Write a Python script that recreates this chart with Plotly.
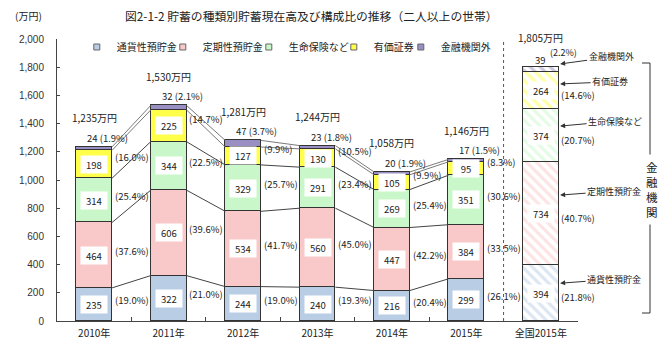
import plotly.graph_objects as go

# ---------------- data ----------------
categories = ["2010年", "2011年", "2012年", "2013年", "2014年", "2015年", "全国2015年"]
series_names = ["通貨性預貯金", "定期性預貯金", "生命保険など", "有価証券", "金融機関外"]

tsuka = [235, 322, 244, 240, 216, 299, 394]     # 通貨性預貯金
teiki = [464, 606, 534, 560, 447, 384, 734]     # 定期性預貯金
seimei = [314, 344, 329, 291, 269, 351, 374]    # 生命保険など
yuka = [198, 225, 127, 130, 105, 95, 264]       # 有価証券
gai = [24, 32, 47, 23, 20, 17, 39]              # 金融機関外
totals = [1235, 1530, 1281, 1244, 1058, 1146, 1805]

pct_tsuka = [19.0, 21.0, 19.0, 19.3, 20.4, 26.1, 21.8]
pct_teiki = [37.6, 39.6, 41.7, 45.0, 42.2, 33.5, 40.7]
pct_seimei = [25.4, 22.5, 25.7, 23.4, 25.4, 30.6, 20.7]
pct_yuka = [16.0, 14.7, 9.9, 10.5, 9.9, 8.3, 14.6]
pct_gai = [1.9, 2.1, 3.7, 1.8, 1.9, 1.5, 2.2]

y_ticks = list(range(0, 2001, 200))

# ---------------- styles ----------------
colors = ["#b9cde5", "#f9c9c9", "#c9f7c9", "#ffff4a", "#9a8fc2"]
FONT = "Noto Sans CJK JP"
TXT = "#222222"
BAR_W = 0.48

values = [tsuka, teiki, seimei, yuka, gai]
pcts = [pct_tsuka, pct_teiki, pct_seimei, pct_yuka, pct_gai]
n = len(categories)
xs = list(range(n))
ny = n - 1  # yearly bars; last one is the national bar

# cumulative tops
cum = []
run = [0] * n
for v in values:
    run = [a + b for a, b in zip(run, v)]
    cum.append(run[:])
bases = [[0] * n] + cum[:-1]

fig = go.Figure()

# yearly bars
for k, name in enumerate(series_names):
    fig.add_trace(go.Bar(
        x=xs[:ny], y=values[k][:ny], width=BAR_W, name=name,
        marker=dict(color=colors[k], line=dict(color="#333333", width=1)),
        showlegend=False, legendgroup=name,
    ))
# national bar (hatched)
for k, name in enumerate(series_names):
    fig.add_trace(go.Bar(
        x=[xs[-1]], y=[values[k][-1]], width=BAR_W, name=name,
        marker=dict(color="white", line=dict(color="#333333", width=1),
                    pattern=dict(shape="\\", fgcolor=colors[k], bgcolor="white",
                                 size=7, solidity=0.45)),
        showlegend=False, legendgroup=name,
    ))

# series lines between yearly bars
half = BAR_W / 2
for k in range(len(series_names)):
    lx, ly = [], []
    for i in range(ny - 1):
        lx += [xs[i] + half, xs[i + 1] - half, None]
        ly += [cum[k][i], cum[k][i + 1], None]
    fig.add_trace(go.Scatter(
        x=lx, y=ly, mode="lines", showlegend=False, hoverinfo="skip",
        line=dict(color="#444444" if k < 3 else "#7a7a7a", width=1),
    ))

# legend entries (small square markers)
legend_w = [41, 41, 40, 22, 50]
for k, name in enumerate(series_names):
    fig.add_trace(go.Scatter(
        x=[None], y=[None], mode="markers", name=name, legendgroup=name,
        marker=dict(symbol="square", size=6, color=colors[k],
                    line=dict(color="#666666", width=1)),
        legendwidth=legend_w[k],
    ))

ann = []
# value labels in white boxes + percentage labels
for i in range(n):
    for k in range(4):
        mid = bases[k][i] + values[k][i] / 2
        ann.append(dict(x=xs[i], y=mid, text=str(values[k][i]), showarrow=False,
                        bgcolor="white", width=24, height=15,
                        font=dict(family=FONT, size=9.5, color=TXT)))
        ann.append(dict(x=xs[i] + half + 0.01, y=mid, xanchor="left",
                        text=f"({pcts[k][i]:.1f}%)", showarrow=False,
                        yshift=(4 if k < 3 else 7) if i < ny else -4,
                        font=dict(family=FONT, size=9.5, color=TXT)))
    # totals
    ann.append(dict(x=xs[i], y=cum[-1][i], yshift=29, showarrow=False,
                    text=f"{totals[i]:,}万円",
                    font=dict(family=FONT, size=10, color=TXT)))
    # 金融機関外 labels above bars
    if i < ny:
        ann.append(dict(x=xs[i] - 0.12, y=cum[-1][i], yshift=9, xanchor="left",
                        showarrow=False, text=f"{gai[i]} ({pct_gai[i]:.1f}%)",
                        font=dict(family=FONT, size=9.5, color=TXT)))
    else:
        ann.append(dict(x=xs[i], y=cum[-1][i], yshift=7, showarrow=False,
                        text=str(gai[i]), font=dict(family=FONT, size=9.5, color=TXT)))
        ann.append(dict(x=xs[i] + 0.1, y=cum[-1][i], yshift=14, xanchor="left",
                        showarrow=False, text=f"({pct_gai[i]:.1f}%)",
                        font=dict(family=FONT, size=9, color=TXT)))

# arrow callouts for the national bar
tips = [bases[k][-1] + 0.68 * values[k][-1] for k in range(4)] + [cum[-1][-1] + 18]
axs = [54, 54, 55, 50, 51]
ays = [-4, -4, -5, -2, -7]
for k, name in enumerate(series_names):
    ann.append(dict(x=xs[-1] + half + 0.02, y=tips[k], ax=axs[k], ay=ays[k],
                    text=name, showarrow=True, arrowhead=2, arrowsize=1,
                    arrowwidth=1, arrowcolor="#333333",
                    font=dict(family=FONT, size=9, color=TXT)))

# bracket label
ann.append(dict(xref="paper", yref="paper", x=1.142, y=0.465, xanchor="center",
                yanchor="middle", text="金<br>融<br>機<br>関",
                showarrow=False, bgcolor="white", borderpad=4,
                font=dict(family=FONT, size=11.5, color=TXT)))
# title and unit
ann.append(dict(xref="paper", yref="paper", x=0.4885, y=1.0816, xanchor="center",
                yanchor="middle", showarrow=False,
                text="図2-1-2 貯蓄の種類別貯蓄現在高及び構成比の推移（二人以上の世帯）",
                font=dict(family=FONT, size=11.8, color=TXT)))
ann.append(dict(xref="paper", yref="paper", x=-0.054, y=1.085, xanchor="center",
                yanchor="middle", showarrow=False,
                text="(万円)", font=dict(family=FONT, size=10, color=TXT)))

BX = (650 - 57) / 521
BX0 = (642 - 57) / 521
BT = (321 - 63) / 282
BB = (321 - 313) / 282
shapes = [
    dict(type="line", xref="x", yref="paper", x0=5.5, x1=5.5, y0=0, y1=1,
         line=dict(color="#555555", width=1, dash="dot")),
    dict(type="line", xref="paper", yref="paper", x0=BX, x1=BX, y0=BB, y1=BT,
         line=dict(color="#333333", width=1)),
    dict(type="line", xref="paper", yref="paper", x0=BX0, x1=BX, y0=BT, y1=BT,
         line=dict(color="#333333", width=1)),
    dict(type="line", xref="paper", yref="paper", x0=BX0, x1=BX, y0=BB, y1=BB,
         line=dict(color="#333333", width=1)),
]

fig.update_layout(
    width=660, height=360,
    margin=dict(l=57, r=82, t=39, b=39),
    barmode="stack", bargap=0,
    paper_bgcolor="white", plot_bgcolor="white",
    font=dict(family=FONT, size=10, color=TXT),
    annotations=ann, shapes=shapes,
    legend=dict(orientation="h", x=0.038, y=0.9716, xanchor="left", yanchor="middle",
                font=dict(family=FONT, size=10, color=TXT), itemwidth=30,
                bgcolor="rgba(0,0,0,0)", traceorder="normal"),
    xaxis=dict(range=[-0.5, 6.5], tickvals=xs, ticktext=categories, ticks="",
               showline=True, linecolor="#444444", linewidth=1, showgrid=False,
               zeroline=False, tickfont=dict(family=FONT, size=10, color=TXT),
               ticklabelstandoff=3,
               minor=dict(tickvals=[0.5, 1.5, 2.5, 3.5, 4.5], ticks="inside",
                          ticklen=4, tickcolor="#444444", showgrid=False)),
    yaxis=dict(range=[0, 2000], tickvals=y_ticks, tickformat=",", ticks="inside",
               ticklen=3, tickcolor="#444444", showline=True, linecolor="#444444",
               linewidth=1, showgrid=False, zeroline=False, ticklabelstandoff=10,
               tickfont=dict(family="Liberation Sans", size=10, color="#333333")),
)

fig.write_html("out.html", config={"displayModeBar": False},
               post_script="document.body.style.margin='0px';")
